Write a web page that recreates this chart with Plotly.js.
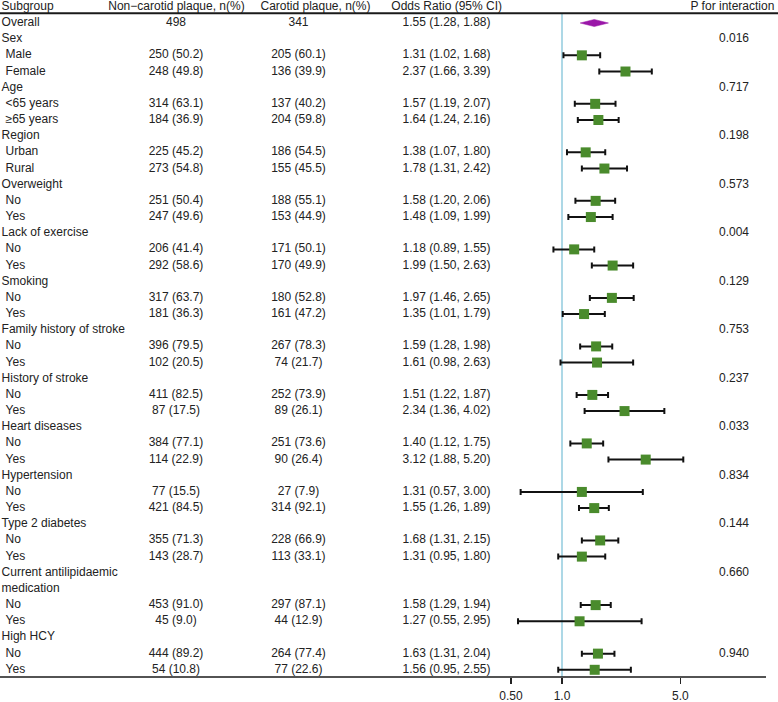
<!DOCTYPE html>
<html>
<head>
<meta charset="utf-8">
<script src="https://cdn.plot.ly/plotly-3.0.1.min.js"></script>
<style>html,body{margin:0;padding:0;background:#fff;}#chart{width:778px;height:702px;}</style>
</head>
<body>
<div id="chart"></div>
<script>
// ---------------- data ----------------
const subgroup = ["Overall","Sex","Male","Female","Age","<65 years","\u226565 years","Region","Urban","Rural",
  "Overweight","No","Yes","Lack of exercise","No","Yes","Smoking","No","Yes","Family history of stroke","No","Yes",
  "History of stroke","No","Yes","Heart diseases","No","Yes","Hypertension","No","Yes","Type 2 diabetes","No","Yes",
  "Current antilipidaemic","medication","No","Yes","High HCY","No","Yes"];
const rowType = ["overall","group","item","item","group","item","item","group","item","item",
  "group","item","item","group","item","item","group","item","item","group","item","item",
  "group","item","item","group","item","item","group","item","item","group","item","item",
  "group","group","item","item","group","item","item"];
const nonCarotidN = [498,null,250,248,null,314,184,null,225,273,null,251,247,null,206,292,null,317,181,null,396,102,
  null,411,87,null,384,114,null,77,421,null,355,143,null,null,453,45,null,444,54];
const nonCarotidPct = [null,null,50.2,49.8,null,63.1,36.9,null,45.2,54.8,null,50.4,49.6,null,41.4,58.6,null,63.7,36.3,null,79.5,20.5,
  null,82.5,17.5,null,77.1,22.9,null,15.5,84.5,null,71.3,28.7,null,null,91.0,9.0,null,89.2,10.8];
const carotidN = [341,null,205,136,null,137,204,null,186,155,null,188,153,null,171,170,null,180,161,null,267,74,
  null,252,89,null,251,90,null,27,314,null,228,113,null,null,297,44,null,264,77];
const carotidPct = [null,null,60.1,39.9,null,40.2,59.8,null,54.5,45.5,null,55.1,44.9,null,50.1,49.9,null,52.8,47.2,null,78.3,21.7,
  null,73.9,26.1,null,73.6,26.4,null,7.9,92.1,null,66.9,33.1,null,null,87.1,12.9,null,77.4,22.6];
const oddsRatio = [1.55,null,1.31,2.37,null,1.57,1.64,null,1.38,1.78,null,1.58,1.48,null,1.18,1.99,null,1.97,1.35,null,1.59,1.61,
  null,1.51,2.34,null,1.40,3.12,null,1.31,1.55,null,1.68,1.31,null,null,1.58,1.27,null,1.63,1.56];
const ciLow = [1.28,null,1.02,1.66,null,1.19,1.24,null,1.07,1.31,null,1.20,1.09,null,0.89,1.50,null,1.46,1.01,null,1.28,0.98,
  null,1.22,1.36,null,1.12,1.88,null,0.57,1.26,null,1.31,0.95,null,null,1.29,0.55,null,1.31,0.95];
const ciHigh = [1.88,null,1.68,3.39,null,2.07,2.16,null,1.80,2.42,null,2.06,1.99,null,1.55,2.63,null,2.65,1.79,null,1.98,2.63,
  null,1.87,4.02,null,1.75,5.20,null,3.00,1.89,null,2.15,1.80,null,null,1.94,2.95,null,2.04,2.55];
const pInteraction = [null,0.016,null,null,0.717,null,null,0.198,null,null,0.573,null,null,0.004,null,null,0.129,null,null,0.753,null,null,
  0.237,null,null,0.033,null,null,0.834,null,null,0.144,null,null,0.660,null,null,null,null,0.940,null];
const headers = ["Subgroup","Non\u2212carotid plaque, n(%)","Carotid plaque, n(%)","Odds Ratio (95% CI)","P for interaction"];
const tickVals = [0.5, 1, 5];
const tickText = ["0.50","1.0","5.0"];

// ---------------- build ----------------
const rows = subgroup.map((_, i) => i);
const FONT = "Liberation Sans, Arial, Helvetica, sans-serif";
const TXT = "#222";
const fmtN = (n, p) => n == null ? "" : (p == null ? String(n) : n + " (" + p.toFixed(1) + ")");
const fmtOR = i => oddsRatio[i] == null ? "" :
  oddsRatio[i].toFixed(2) + " (" + ciLow[i].toFixed(2) + ", " + ciHigh[i].toFixed(2) + ")";

const HEADER_ROW = -0.99;
const TOP_RULE_ROW = -0.6;
const Y_TOP = -1.4224, Y_BOTTOM = 40.445;

function textTrace(xpos, ys, texts, pos) {
  return {
    type: "scatter", mode: "text", xaxis: "x2", yaxis: "y",
    x: ys.map(() => xpos), y: ys, text: texts, textposition: pos,
    textfont: {family: FONT, size: 12, color: TXT},
    hoverinfo: "skip", cliponaxis: false, showlegend: false
  };
}

const traces = [];

// reference line at OR = 1
traces.push({
  type: "scatter", mode: "lines", x: [1, 1], y: [TOP_RULE_ROW, Y_BOTTOM],
  line: {color: "#add8e6", width: 2}, hoverinfo: "skip", showlegend: false
});

// overall diamond
const oIdx = rowType.indexOf("overall");
const dh = 0.22;
traces.push({
  type: "scatter", mode: "lines", fill: "toself",
  x: [ciLow[oIdx], oddsRatio[oIdx], ciHigh[oIdx], oddsRatio[oIdx], ciLow[oIdx]],
  y: [oIdx, oIdx - dh, oIdx, oIdx + dh, oIdx],
  fillcolor: "#9a17a8", line: {color: "#9a17a8", width: 0.5},
  hoverinfo: "skip", showlegend: false
});

// subgroup estimates
const items = rows.filter(i => rowType[i] === "item");
traces.push({
  type: "scatter", mode: "markers",
  x: items.map(i => oddsRatio[i]), y: items,
  marker: {symbol: "square", size: 10, color: "#4a8b2c", line: {width: 0}},
  error_x: {type: "data", symmetric: false,
    array: items.map(i => ciHigh[i] - oddsRatio[i]),
    arrayminus: items.map(i => oddsRatio[i] - ciLow[i]),
    color: "#111", thickness: 2, width: 3},
  hoverinfo: "skip", showlegend: false
});

// table text
const grpRows = rows.filter(i => rowType[i] !== "item");
const itmRows = items;
traces.push(textTrace(1.6, grpRows, grpRows.map(i => subgroup[i]), "middle right"));
traces.push(textTrace(5.6, itmRows, itmRows.map(i => subgroup[i]), "middle right"));
const numRows = rows.filter(i => nonCarotidN[i] != null);
traces.push(textTrace(176, numRows, numRows.map(i => fmtN(nonCarotidN[i], nonCarotidPct[i])), "middle center"));
traces.push(textTrace(298.5, numRows, numRows.map(i => fmtN(carotidN[i], carotidPct[i])), "middle center"));
traces.push(textTrace(446.5, numRows, numRows.map(i => fmtOR(i)), "middle center"));
const pRows = rows.filter(i => pInteraction[i] != null);
traces.push(textTrace(734, pRows, pRows.map(i => pInteraction[i].toFixed(3)), "middle center"));

// headers
traces.push(textTrace(1.6, [HEADER_ROW], [headers[0]], "middle right"));
traces.push(textTrace(176.5, [HEADER_ROW], [headers[1]], "middle center"));
traces.push(textTrace(315.5, [HEADER_ROW], [headers[2]], "middle center"));
traces.push(textTrace(446.7, [HEADER_ROW], [headers[3]], "middle center"));
traces.push(textTrace(690.5, [HEADER_ROW], [headers[4]], "middle right"));

const layout = {
  width: 778, height: 702,
  margin: {l: 0, r: 0, t: 0, b: 25, pad: 0},
  paper_bgcolor: "#fff", plot_bgcolor: "rgba(0,0,0,0)",
  showlegend: false,
  font: {family: FONT, size: 12, color: TXT},
  xaxis: {
    type: "log", domain: [0, 1], range: [-3.3176, 1.2751],
    showgrid: false, zeroline: false, showline: false,
    tickmode: "array", tickvals: tickVals, ticktext: tickText,
    ticks: "outside", ticklen: 6, tickwidth: 1.5, tickcolor: "#222",
    ticklabelstandoff: 2,
    tickfont: {family: FONT, size: 12, color: TXT},
    fixedrange: true
  },
  xaxis2: {overlaying: "x", range: [0, 778], visible: false, fixedrange: true},
  yaxis: {range: [Y_BOTTOM, Y_TOP], visible: false, fixedrange: true},
  shapes: [
    {type: "line", xref: "paper", yref: "y", x0: 0, x1: 1, y0: TOP_RULE_ROW, y1: TOP_RULE_ROW,
     line: {color: "#1a1a1a", width: 2}},
    {type: "line", xref: "paper", yref: "paper", x0: 0, x1: 766 / 778, y0: 0, y1: 0,
     line: {color: "#1a1a1a", width: 1.5}}
  ]
};

Plotly.newPlot("chart", traces, layout, {staticPlot: true, displayModeBar: false});
</script>
</body>
</html>
